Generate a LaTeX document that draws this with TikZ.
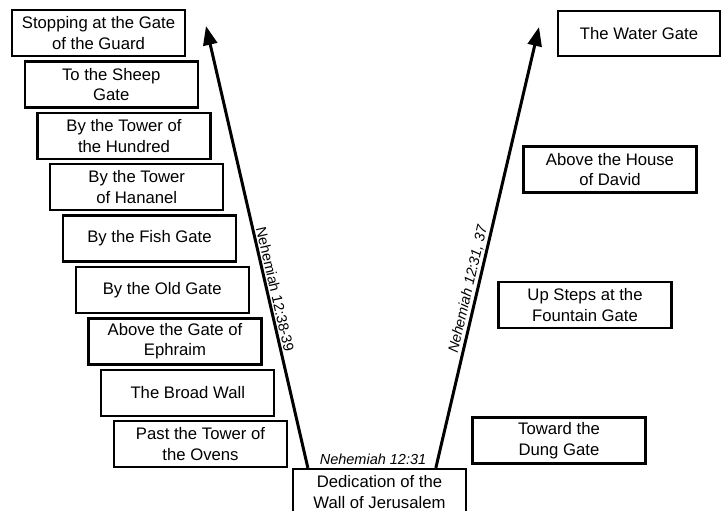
\documentclass[tikz,border=0pt]{standalone}
\usepackage{fontspec}
\setmainfont{Liberation Sans}
\usetikzlibrary{arrows.meta,calc}
\begin{document}
\begin{tikzpicture}[x=1pt,y=1pt,
  gatebox/.style={draw, line width=2.3pt, minimum width=173pt, minimum height=46pt,
    align=center, inner sep=2pt, font=\fontsize{16.7}{20.5}\selectfont},
  route/.style={line width=3pt, -{Triangle[length=19pt,width=14pt]}},
  reflabel/.style={font=\fontsize{14.5}{17}\selectfont, inner sep=1.5pt}]
\useasboundingbox (0,0) rectangle (721,511);
\clip (0,0) rectangle (721,511);
% left column
\node[gatebox] (g1) at (98.5,478) {Stopping at the Gate\\of the Guard};
\node[gatebox] (g2) at (111.25,426.6) {To the Sheep\\Gate};
\node[gatebox] (g3) at (124,375.2) {By the Tower of\\the Hundred};
\node[gatebox] (g4) at (136.75,323.8) {By the Tower\\of Hananel};
\node[gatebox] (g5) at (149.5,272.4) {By the Fish Gate};
\node[gatebox] (g6) at (162.25,221) {By the Old Gate};
\node[gatebox] (g7) at (175,169.6) {Above the Gate of\\Ephraim};
\node[gatebox] (g8) at (187.75,118.2) {The Broad Wall};
\node[gatebox] (g9) at (200.5,66.8) {Past the Tower of\\the Ovens};
% right column
\node[gatebox, minimum width=162pt, minimum height=45pt] (r1) at (639,477.5) {The Water Gate};
\node[gatebox] (r2) at (610,341.5) {Above the House\\of David};
\node[gatebox] (r3) at (585,206) {Up Steps at the\\Fountain Gate};
\node[gatebox] (r4) at (559,70.5) {Toward the\\Dung Gate};
% start
\node[gatebox] (ded) at (379.5,19) {Dedication of the\\Wall of Jerusalem};
\node[reflabel, font=\fontsize{14.5}{17}\selectfont\itshape] (dedref) at ($(ded.north)+(-6.5,9)$) {Nehemiah 12:31};
% routes
\coordinate (ls) at ($(ded.north west)+(16,0)$);
\coordinate (rs) at ($(ded.north west)+(144,0)$);
\coordinate (lt) at (206,485);
\coordinate (rt) at (539,484);
\draw[route] (ls) -- node[pos=0.4, sloped, above, reflabel] (lref) {Nehemiah 12:38-39} (lt);
\draw[route] (rs) -- node[pos=0.4, sloped, above, reflabel, font=\fontsize{14.5}{17}\selectfont\itshape] (rref) {Nehemiah 12:31, 37} (rt);
\end{tikzpicture}
\end{document}
